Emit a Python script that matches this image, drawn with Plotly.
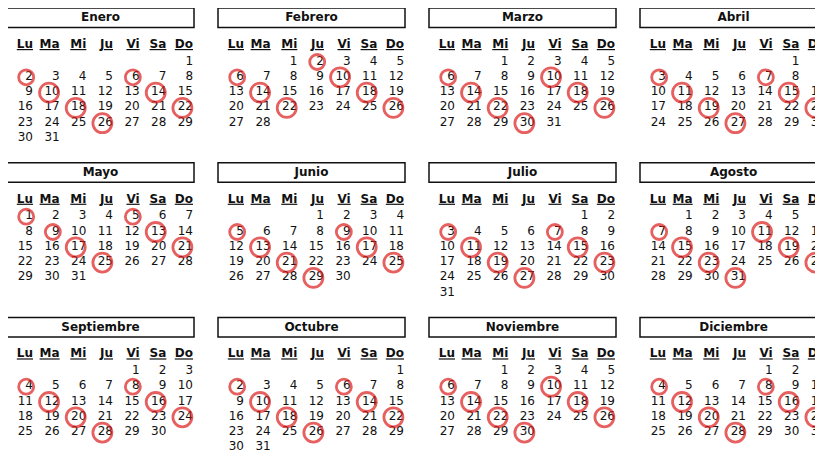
import datetime
import plotly.graph_objects as go

YEAR = 2023
MONTH_NAMES = ["Enero", "Febrero", "Marzo", "Abril", "Mayo", "Junio",
               "Julio", "Agosto", "Septiembre", "Octubre", "Noviembre", "Diciembre"]
DAY_LABELS = ["Lu", "Ma", "Mi", "Ju", "Vi", "Sa", "Do"]

circled_enero = [2, 6, 10, 14, 18, 22, 26]
circled_febrero = [2, 6, 10, 14, 18, 22, 26]
circled_marzo = [6, 10, 14, 18, 22, 26, 30]
circled_abril = [3, 7, 11, 15, 19, 23, 27]
circled_mayo = [1, 5, 9, 13, 17, 21, 25]
circled_junio = [5, 9, 13, 17, 21, 25, 29]
circled_julio = [3, 7, 11, 15, 19, 23, 27]
circled_agosto = [7, 11, 15, 19, 23, 27, 31]
circled_septiembre = [4, 8, 12, 16, 20, 24, 28]
circled_octubre = [2, 6, 10, 14, 18, 22, 26]
circled_noviembre = [6, 10, 14, 18, 22, 26, 30]
circled_diciembre = [4, 8, 12, 16, 20, 24, 28]
CIRCLED = [circled_enero, circled_febrero, circled_marzo, circled_abril,
           circled_mayo, circled_junio, circled_julio, circled_agosto,
           circled_septiembre, circled_octubre, circled_noviembre, circled_diciembre]

# ---- layout geometry (pixel space of the window) ----
W, H = 823, 451
PAGE_OFF = 8  # default body margin of the html page
COL_STEP, ROW_STEP = 211, 154.7
LEFT0, TOP0 = 7, 8
BOX_W, BOX_H = 187, 19.5
DAY_X0, DAY_DX = 23, 26.67
HDR_DY, ROW0_DY, ROW_DY = 37, 53.5, 15.3
FONT = "DejaVu Sans"
FS = 12
TXT_PAD = 3  # scatter text offset for 'middle left'
DIGIT_W = 0.636 * FS
RED = "#dd1c1c"

shapes = []
title_x, title_y, title_t = [], [], []
hdr_x, hdr_y, hdr_t = [], [], []
num_x, num_y, num_t = [], [], []
cir_x, cir_y, cir_s = [], [], []

for m, name in enumerate(MONTH_NAMES):
    c, r = m % 4, m // 4
    L = LEFT0 + COL_STEP * c
    T = TOP0 + ROW_STEP * r
    shapes.append(dict(type="rect", xref="x", yref="y", x0=L, x1=L + BOX_W,
                       y0=T, y1=T + BOX_H, line=dict(color="#111", width=1.5),
                       fillcolor="white", layer="below"))
    title_x.append(L + BOX_W / 2)
    title_y.append(T + BOX_H / 2 + 0.5)
    title_t.append(f"<b>{name}</b>")
    for d, lab in enumerate(DAY_LABELS):
        hdr_x.append(L + DAY_X0 + DAY_DX * d + TXT_PAD)
        hdr_y.append(T + HDR_DY)
        hdr_t.append(f"<b><u>{lab}</u></b>")
    first_wd = datetime.date(YEAR, m + 1, 1).weekday()
    nxt = datetime.date(YEAR + (m == 11), (m + 1) % 12 + 1, 1)
    ndays = (nxt - datetime.date(YEAR, m + 1, 1)).days
    for day in range(1, ndays + 1):
        wd = (first_wd + day - 1) % 7
        wk = (first_wd + day - 1) // 7
        xr = L + DAY_X0 + DAY_DX * wd
        y = T + ROW0_DY + ROW_DY * wk
        num_x.append(xr + TXT_PAD)
        num_y.append(y)
        num_t.append(str(day))
        if day in CIRCLED[m]:
            nd = len(str(day))
            cir_x.append(xr - nd * DIGIT_W / 2)
            cir_y.append(y + 0.5)
            cir_s.append(15 if nd == 1 else 19)

fig = go.Figure()
fig.add_trace(go.Scatter(x=title_x, y=title_y, text=title_t, mode="text",
                         textposition="middle center",
                         textfont=dict(family=FONT, size=FS, color="#111"),
                         hoverinfo="skip"))
fig.add_trace(go.Scatter(x=hdr_x, y=hdr_y, text=hdr_t, mode="text",
                         textposition="middle left",
                         textfont=dict(family=FONT, size=FS, color="#111"),
                         hoverinfo="skip"))
fig.add_trace(go.Scatter(x=num_x, y=num_y, text=num_t, mode="text",
                         textposition="middle left",
                         textfont=dict(family=FONT, size=FS, color="#111"),
                         hoverinfo="skip"))
fig.add_trace(go.Scatter(x=cir_x, y=cir_y, mode="markers",
                         marker=dict(symbol="circle-open", size=cir_s,
                                     color=RED, line=dict(width=2.8, color=RED)),
                         hoverinfo="skip"))

fig.update_layout(width=W - PAGE_OFF, height=H - PAGE_OFF, autosize=False,
                  margin=dict(l=0, r=0, t=0, b=0),
                  paper_bgcolor="white", plot_bgcolor="white",
                  showlegend=False, shapes=shapes,
                  xaxis=dict(range=[PAGE_OFF, W], visible=False, fixedrange=True),
                  yaxis=dict(range=[H, PAGE_OFF], visible=False, fixedrange=True))
fig.write_html("out.html")
